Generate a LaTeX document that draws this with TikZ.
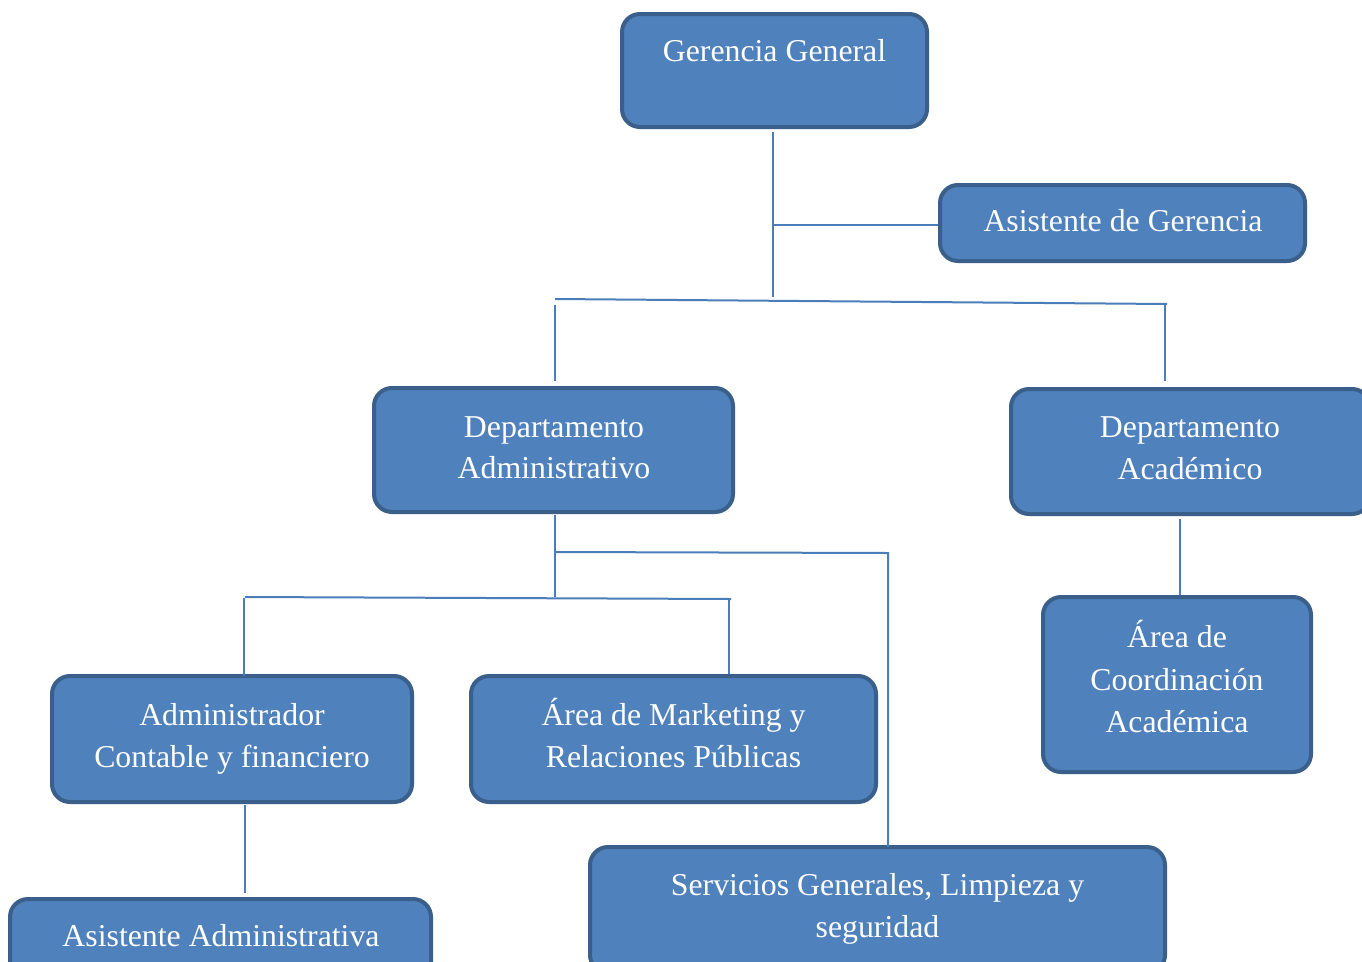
\documentclass[tikz,border=0pt]{standalone}
\usepackage{fontspec}
\setmainfont{Liberation Serif}
\definecolor{boxfill}{HTML}{4F81BD}
\definecolor{boxline}{HTML}{3A5F8B}
\definecolor{conn}{HTML}{4A7EBB}
\tikzset{
  box/.style={draw=boxline, fill=boxfill, line width=4pt, rounded corners=18pt, inner sep=0pt},
  txt/.style={text=white, font=\fontsize{31.8}{42}\selectfont, align=center, inner sep=0pt, anchor=base},
  link/.style={draw=conn, line width=2pt}
}
\begin{document}
\begin{tikzpicture}[x=1pt,y=-1pt]
\clip (0,0) rectangle (1362,961);
\fill[white] (0,0) rectangle (1362,961);
% boxes
\node[box, minimum width=305pt, minimum height=113pt] (gg) at (774.5,70.5) {};
\node[box, minimum width=365pt, minimum height=76pt] (ag) at (1122.5,223) {};
\node[box, minimum width=359pt, minimum height=124pt] (da) at (553.5,450) {};
\node[box, minimum width=359pt, minimum height=125pt] (dac) at (1190.5,451.5) {};
\node[box, minimum width=268pt, minimum height=175pt] (co) at (1177,684.5) {};
\node[box, minimum width=360pt, minimum height=126pt] (acf) at (232,739) {};
\node[box, minimum width=405pt, minimum height=126pt] (mk) at (673.5,739) {};
\node[box, minimum width=575pt, minimum height=126pt] (sg) at (877.5,910) {};
\node[box, minimum width=421pt, minimum height=126pt] (aa) at (220.5,962) {};
% texts
\node[txt] (gg-t) at (774.5,61) {Gerencia General};
\node[txt] (ag-t) at (1123,231) {Asistente de Gerencia};
\node[txt] (da-t1) at (554,437) {Departamento};
\node[txt] (da-t2) at (554,478) {Administrativo};
\node[txt] (dac-t1) at (1190,437) {Departamento};
\node[txt] (dac-t2) at (1190,479) {Académico};
\node[txt] (co-t1) at (1177,647) {Área de};
\node[txt] (co-t2) at (1177,690) {Coordinación};
\node[txt] (co-t3) at (1177,732) {Académica};
\node[txt] (acf-t1) at (232,725) {Administrador};
\node[txt] (acf-t2) at (232,767) {Contable y financiero};
\node[txt] (mk-t1) at (673.5,725) {Área de Marketing y};
\node[txt] (mk-t2) at (673.5,767) {Relaciones Públicas};
\node[txt] (sg-t1) at (877.5,895) {Servicios Generales, Limpieza y};
\node[txt] (sg-t2) at (877.5,937) {seguridad};
\node[txt] (aa-t) at (221,946) {Asistente Administrativa};
% junction coordinates
\coordinate (t0) at (773,132);
\coordinate (t1) at (773,225);
\coordinate (t2) at (773,297);
\coordinate (b1l) at (555,299);
\coordinate (b1r) at (1167,304);
\coordinate (d1a) at (555,305);
\coordinate (d1b) at (555,381);
\coordinate (d2a) at (1165,304);
\coordinate (d2b) at (1165,381);
\coordinate (s0) at (555,515);
\coordinate (s1) at (555,597);
\coordinate (s2) at (555,552);
\coordinate (s3) at (888,553);
\coordinate (s4) at (888,847);
\coordinate (h2l) at (245,597);
\coordinate (h2r) at (731,599);
\coordinate (a1) at (244,598);
\coordinate (a2) at (244,676);
\coordinate (m1) at (729,599);
\coordinate (m2) at (729,674);
\coordinate (x1) at (245,805);
\coordinate (x2) at (245,893);
\coordinate (c1) at (1180,519);
\coordinate (c2) at (1180,595);
% connectors
\draw[link] (t0) -- (t2);
\draw[link] (t1) -- (t1 -| ag.west);
\draw[link] (b1l) -- (b1r);
\draw[link] (d1a) -- (d1b);
\draw[link] (d2a) -- (d2b);
\draw[link] (s0) -- (s1);
\draw[link] (s2) -- (s3) -- (s4);
\draw[link] (h2l) -- (h2r);
\draw[link] (a1) -- (a2);
\draw[link] (m1) -- (m2);
\draw[link] (x1) -- (x2);
\draw[link] (c1) -- (c2);
\end{tikzpicture}
\end{document}
